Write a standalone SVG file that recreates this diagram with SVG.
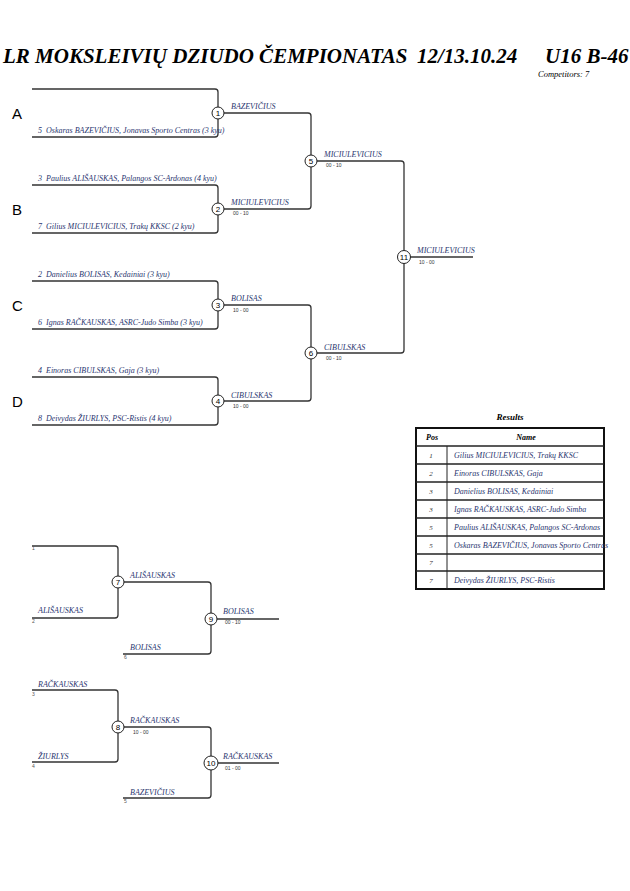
<svg xmlns="http://www.w3.org/2000/svg" width="630" height="891" viewBox="0 0 630 891">
<style>
.title{font-family:"Liberation Serif",serif;font-weight:bold;font-style:italic;font-size:21px;fill:#000}
.comp{font-family:"Liberation Serif",serif;font-style:italic;font-size:8.5px;fill:#000}
.nm{font-family:"Liberation Serif",serif;font-style:italic;font-size:8px;fill:#2a3670;white-space:pre}
.lb{font-family:"Liberation Serif",serif;font-style:italic;font-size:8px;fill:#2a3670}
.sc{font-family:"Liberation Sans",sans-serif;font-size:5px;fill:#333}
.sm{font-family:"Liberation Sans",sans-serif;font-size:5px;fill:#555}
.pool{font-family:"Liberation Sans",sans-serif;font-size:15px;fill:#000}
.cn{font-family:"Liberation Sans",sans-serif;font-size:8px;fill:#000;text-anchor:middle}
.ln{fill:none;stroke:#333;stroke-width:1.3}
.circ{fill:#fff;stroke:#222;stroke-width:1}
.th{font-family:"Liberation Serif",serif;font-weight:bold;font-style:italic;font-size:8px;fill:#000}
.tp{font-family:"Liberation Serif",serif;font-style:italic;font-size:7px;fill:#333;text-anchor:middle}
.tn{font-family:"Liberation Serif",serif;font-style:italic;font-size:8px;fill:#2a3670}
</style>
<g id="header">
<text class="title" x="3" y="63">LR MOKSLEIVIŲ DZIUDO ČEMPIONATAS</text>
<text class="title" x="417" y="63">12/13.10.24</text>
<text class="title" x="545" y="63">U16 B-46</text>
<text class="comp" x="538" y="77">Competitors: 7</text>
</g>
<g id="connectors">
<path class="ln" d="M32 89H215Q218 89 218 92V134Q218 137 215 137H32"/>
<path class="ln" d="M32 185H215Q218 185 218 188V230Q218 233 215 233H32"/>
<path class="ln" d="M32 281H215Q218 281 218 284V326Q218 329 215 329H32"/>
<path class="ln" d="M32 377H215Q218 377 218 380V422Q218 425 215 425H32"/>
<path class="ln" d="M218 113H308Q311 113 311 116V206Q311 209 308 209H218"/>
<path class="ln" d="M218 305H308Q311 305 311 308V398Q311 401 308 401H218"/>
<path class="ln" d="M311 161H401Q404 161 404 164V350Q404 353 401 353H311"/>
<path class="ln" d="M404 257H473"/>
<path class="ln" d="M32 546H115Q118 546 118 549V615Q118 618 115 618H32"/>
<path class="ln" d="M118 582H208Q211 582 211 585V651Q211 654 208 654H123"/>
<path class="ln" d="M211 619H279"/>
<path class="ln" d="M32 690H115Q118 690 118 693V759Q118 762 115 762H32"/>
<path class="ln" d="M118 727H208Q211 727 211 730V795Q211 798 208 798H123"/>
<path class="ln" d="M211 763H279"/>
</g>
<g id="pools">
<text class="pool" x="12" y="119">A</text>
<text class="pool" x="12" y="215">B</text>
<text class="pool" x="12" y="311">C</text>
<text class="pool" x="12" y="407">D</text>
</g>
<g id="competitors">
<text class="nm" x="38" y="133" xml:space="preserve">5  Oskaras BAZEVIČIUS, Jonavas Sporto Centras (3 kyu)</text>
<text class="nm" x="38" y="181" xml:space="preserve">3  Paulius ALIŠAUSKAS, Palangos SC-Ardonas (4 kyu)</text>
<text class="nm" x="38" y="229" xml:space="preserve">7  Gilius MICIULEVICIUS, Trakų KKSC (2 kyu)</text>
<text class="nm" x="38" y="277" xml:space="preserve">2  Danielius BOLISAS, Kedainiai (3 kyu)</text>
<text class="nm" x="38" y="325" xml:space="preserve">6  Ignas RAČKAUSKAS, ASRC-Judo Simba (3 kyu)</text>
<text class="nm" x="38" y="373" xml:space="preserve">4  Einoras CIBULSKAS, Gaja (3 kyu)</text>
<text class="nm" x="38" y="421" xml:space="preserve">8  Deivydas ŽIURLYS, PSC-Ristis (4 kyu)</text>
</g>
<g id="m1"><circle class="circ" cx="218" cy="113" r="6"/><text class="cn" x="218" y="116">1</text><text class="lb" x="231" y="109">BAZEVIČIUS</text></g>
<g id="m2"><circle class="circ" cx="218" cy="209" r="6"/><text class="cn" x="218" y="212">2</text><text class="lb" x="231" y="205">MICIULEVICIUS</text><text class="sc" x="233" y="215">00 - 10</text></g>
<g id="m3"><circle class="circ" cx="218" cy="305" r="6"/><text class="cn" x="218" y="308">3</text><text class="lb" x="231" y="301">BOLISAS</text><text class="sc" x="233" y="312">10 - 00</text></g>
<g id="m4"><circle class="circ" cx="218" cy="401" r="6"/><text class="cn" x="218" y="404">4</text><text class="lb" x="231" y="398">CIBULSKAS</text><text class="sc" x="233" y="408">10 - 00</text></g>
<g id="m5"><circle class="circ" cx="311" cy="161" r="6"/><text class="cn" x="311" y="164">5</text><text class="lb" x="324" y="157">MICIULEVICIUS</text><text class="sc" x="326" y="167">00 - 10</text></g>
<g id="m6"><circle class="circ" cx="311" cy="353" r="6"/><text class="cn" x="311" y="356">6</text><text class="lb" x="324" y="350">CIBULSKAS</text><text class="sc" x="326" y="360">00 - 10</text></g>
<g id="m11"><circle class="circ" cx="404" cy="257" r="6.5"/><text class="cn" x="404" y="260">11</text><text class="lb" x="417" y="253">MICIULEVICIUS</text><text class="sc" x="419" y="264">10 - 00</text></g>
<g id="rep1">
<text class="sm" x="32" y="550">1</text>
<text class="lb" x="38" y="613">ALIŠAUSKAS</text>
<text class="sm" x="32" y="623">2</text>
<text class="lb" x="130" y="650">BOLISAS</text>
<text class="sm" x="124" y="659">6</text>
</g>
<g id="m7"><circle class="circ" cx="118" cy="582" r="6"/><text class="cn" x="118" y="585">7</text><text class="lb" x="130" y="578">ALIŠAUSKAS</text></g>
<g id="m9"><circle class="circ" cx="211" cy="619" r="6"/><text class="cn" x="211" y="622">9</text><text class="lb" x="223" y="614">BOLISAS</text><text class="sc" x="225" y="624">00 - 10</text></g>
<g id="rep2">
<text class="lb" x="38" y="687">RAČKAUSKAS</text>
<text class="sm" x="32" y="696">3</text>
<text class="lb" x="38" y="759">ŽIURLYS</text>
<text class="sm" x="32" y="768">4</text>
<text class="lb" x="130" y="795">BAZEVIČIUS</text>
<text class="sm" x="124" y="803">5</text>
</g>
<g id="m8"><circle class="circ" cx="118" cy="727" r="6"/><text class="cn" x="118" y="730">8</text><text class="lb" x="130" y="723">RAČKAUSKAS</text><text class="sc" x="133" y="734">10 - 00</text></g>
<g id="m10"><circle class="circ" cx="211" cy="763" r="7"/><text class="cn" x="211" y="766">10</text><text class="lb" x="223" y="759">RAČKAUSKAS</text><text class="sc" x="225" y="770">01 - 00</text></g>
<g id="results">
<text class="th" x="510" y="420" text-anchor="middle" style="font-size:9px">Results</text>
<rect x="416" y="428" width="188" height="161" fill="#fff" stroke="#111" stroke-width="2"/>
<g stroke="#222" stroke-width="1.5">
<line x1="416" y1="446" x2="604" y2="446"/>
<line x1="416" y1="464" x2="604" y2="464"/>
<line x1="416" y1="482" x2="604" y2="482"/>
<line x1="416" y1="500" x2="604" y2="500"/>
<line x1="416" y1="518" x2="604" y2="518"/>
<line x1="416" y1="536" x2="604" y2="536"/>
<line x1="416" y1="554" x2="604" y2="554"/>
<line x1="416" y1="571" x2="604" y2="571"/>
<line x1="447" y1="446" x2="447" y2="589" stroke-width="1"/>
</g>
<text class="th" x="432" y="440" text-anchor="middle">Pos</text>
<text class="th" x="526" y="440" text-anchor="middle">Name</text>
<text class="tp" x="431" y="458">1</text><text class="tn" x="454" y="458">Gilius MICIULEVICIUS, Trakų KKSC</text>
<text class="tp" x="431" y="476">2</text><text class="tn" x="454" y="476">Einoras CIBULSKAS, Gaja</text>
<text class="tp" x="431" y="494">3</text><text class="tn" x="454" y="494">Danielius BOLISAS, Kedainiai</text>
<text class="tp" x="431" y="512">3</text><text class="tn" x="454" y="512">Ignas RAČKAUSKAS, ASRC-Judo Simba</text>
<text class="tp" x="431" y="530">5</text><text class="tn" x="454" y="530">Paulius ALIŠAUSKAS, Palangos SC-Ardonas</text>
<text class="tp" x="431" y="548">5</text><text class="tn" x="454" y="548">Oskaras BAZEVIČIUS, Jonavas Sporto Centras</text>
<text class="tp" x="431" y="565">7</text>
<text class="tp" x="431" y="583">7</text><text class="tn" x="454" y="583">Deivydas ŽIURLYS, PSC-Ristis</text>
</g>
</svg>
